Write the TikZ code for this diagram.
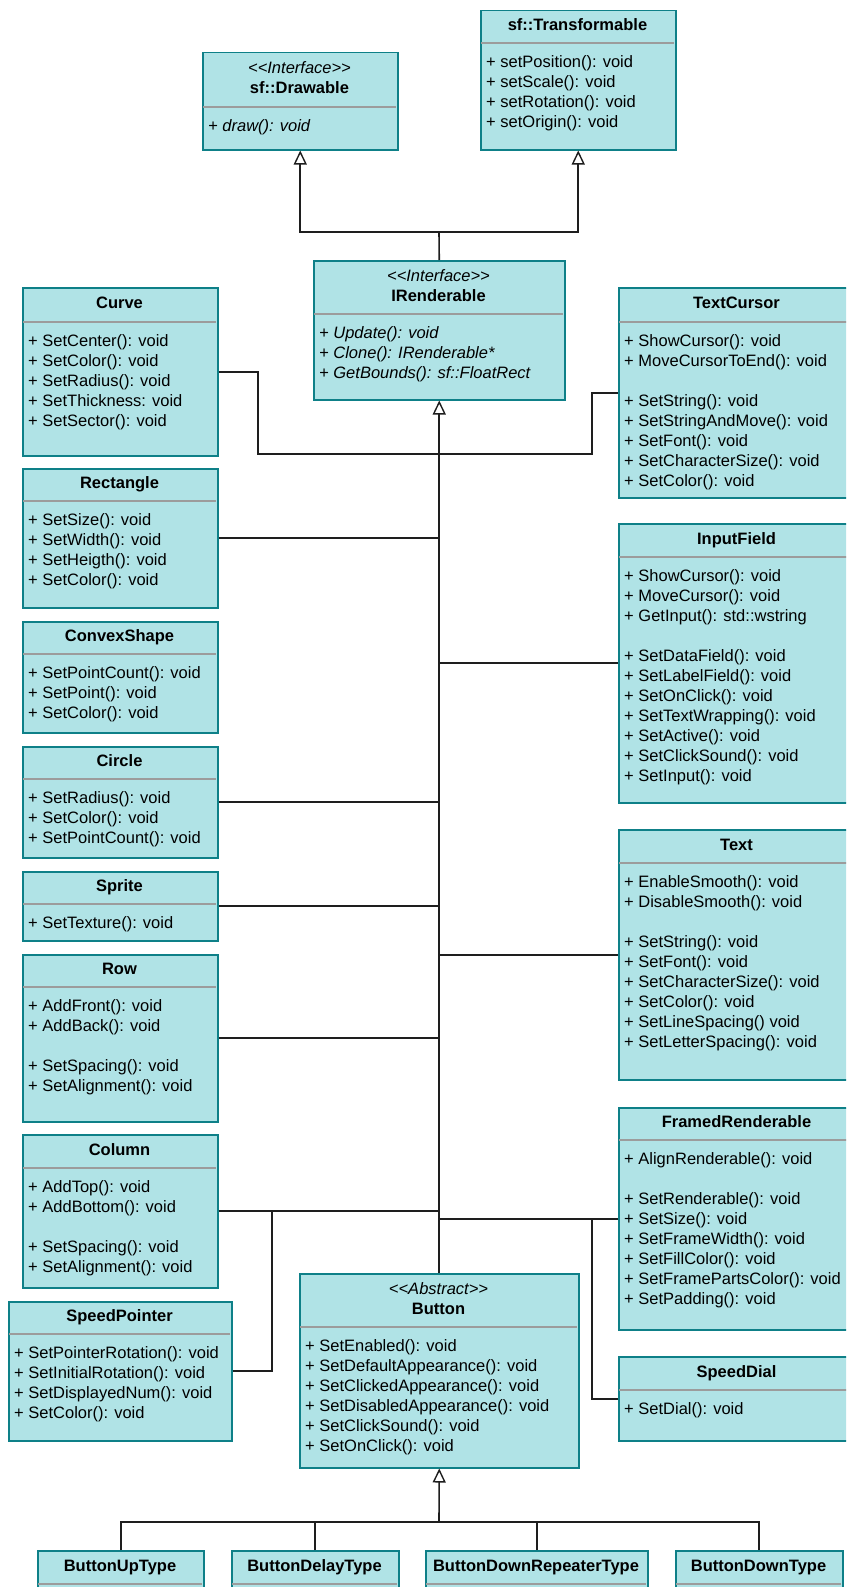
\documentclass[tikz,border=0pt]{standalone}
\usepackage{fontspec}
\setmainfont{Liberation Sans}
\usetikzlibrary{arrows.meta}

\definecolor{classfill}{HTML}{B0E3E6}
\definecolor{classline}{HTML}{0E8088}
\definecolor{rulegray}{HTML}{9C9C9C}
\definecolor{wire}{HTML}{1E1E1E}

\newcommand\tstrut{\rule[-4pt]{0pt}{16pt}}
\newcommand\umlfont{\fontsize{16.5}{20}\selectfont}

% #1 name, #2 left, #3 top, #4 right, #5 bottom, #6 separator y, #7 header, #8 members
\newcommand\umlclass[8]{%
  \node[classbox, minimum width={(#4-#2)*1pt}, minimum height={(#5-#3)*1pt}] (#1) at (#2,#3) {};
  \draw[sepline] (#2+1,#6) -- (#4-1,#6);
  \node[classtitle] (#1-title) at ({(#2+#4)/2},{(#3+#6)/2}) {#7};
  \node[classitems] (#1-items) at (#2+6,#6) {\rule{0pt}{24pt}#8};
}

\tikzset{
  classbox/.style={draw=classline, fill=classfill, line width=1.5pt, inner sep=0pt,
    anchor=north west, rectangle},
  sepline/.style={draw=rulegray, line width=1.5pt},
  classtitle/.style={inner sep=0pt, align=center, font=\umlfont},
  classitems/.style={inner sep=0pt, anchor=north west, align=left, font=\umlfont},
  wireline/.style={draw=wire, line width=1.6pt},
  inh/.style={wireline, -{Triangle[open, length=14pt, width=13pt, line width=1.4pt]}},
}

\begin{document}
\begin{tikzpicture}[x=1pt, y=-1pt]
\useasboundingbox (0,0) rectangle (846,1587);
\fill[white] (0,0) rectangle (846,1587);
\clip (0,0) rectangle (846,1587);

% SFML base classes
\umlclass{drawable}{202}{52}{397}{149}{107}
  {\tstrut\textit{<{}<Interface>{}>}\\\tstrut\textbf{sf::Drawable}}
  {\textit{+ draw(): void}}
\umlclass{transformable}{480}{10}{675}{149}{43}
  {\tstrut\textbf{sf::Transformable}}
  {+ setPosition(): void\\+ setScale(): void\\+ setRotation(): void\\+ setOrigin(): void}

% common interface
\umlclass{irend}{313}{260}{564}{399}{314}
  {\tstrut\textit{<{}<Interface>{}>}\\\tstrut\textbf{IRenderable}}
  {\textit{+ Update(): void}\\\textit{+ Clone(): IRenderable*}\\\textit{+ GetBounds(): sf::FloatRect}}

% left column
\umlclass{curve}{22}{287}{217}{455}{322}
  {\tstrut\textbf{Curve}}
  {+ SetCenter(): void\\+ SetColor(): void\\+ SetRadius(): void\\+ SetThickness: void\\+ SetSector(): void}
\umlclass{rect}{22}{468}{217}{607}{501}
  {\tstrut\textbf{Rectangle}}
  {+ SetSize(): void\\+ SetWidth(): void\\+ SetHeigth(): void\\+ SetColor(): void}
\umlclass{convex}{22}{621}{217}{732}{654}
  {\tstrut\textbf{ConvexShape}}
  {+ SetPointCount(): void\\+ SetPoint(): void\\+ SetColor(): void}
\umlclass{circle}{22}{746}{217}{857}{779}
  {\tstrut\textbf{Circle}}
  {+ SetRadius(): void\\+ SetColor(): void\\+ SetPointCount(): void}
\umlclass{sprite}{22}{871}{217}{940}{904}
  {\tstrut\textbf{Sprite}}
  {+ SetTexture(): void}
\umlclass{row}{22}{954}{217}{1121}{987}
  {\tstrut\textbf{Row}}
  {+ AddFront(): void\\+ AddBack(): void\\[20pt]+ SetSpacing(): void\\+ SetAlignment(): void}
\umlclass{column}{22}{1134}{217}{1287}{1168}
  {\tstrut\textbf{Column}}
  {+ AddTop(): void\\+ AddBottom(): void\\[20pt]+ SetSpacing(): void\\+ SetAlignment(): void}
\umlclass{spoint}{8}{1301}{231}{1440}{1334}
  {\tstrut\textbf{SpeedPointer}}
  {+ SetPointerRotation(): void\\+ SetInitialRotation(): void\\+ SetDisplayedNum(): void\\+ SetColor(): void}

% right column
\umlclass{tcur}{618}{287}{855}{497}{322}
  {\tstrut\textbf{TextCursor}}
  {+ ShowCursor(): void\\+ MoveCursorToEnd(): void\\[20pt]+ SetString(): void\\+ SetStringAndMove(): void\\+ SetFont(): void\\+ SetCharacterSize(): void\\+ SetColor(): void}
\umlclass{input}{618}{523}{855}{802}{557}
  {\tstrut\textbf{InputField}}
  {+ ShowCursor(): void\\+ MoveCursor(): void\\+ GetInput(): std::wstring\\[20pt]+ SetDataField(): void\\+ SetLabelField(): void\\+ SetOnClick(): void\\+ SetTextWrapping(): void\\+ SetActive(): void\\+ SetClickSound(): void\\+ SetInput(): void}
\umlclass{text}{618}{829}{855}{1079}{863}
  {\tstrut\textbf{Text}}
  {+ EnableSmooth(): void\\+ DisableSmooth(): void\\[20pt]+ SetString(): void\\+ SetFont(): void\\+ SetCharacterSize(): void\\+ SetColor(): void\\+ SetLineSpacing() void\\+ SetLetterSpacing(): void}
\umlclass{framed}{618}{1107}{855}{1329}{1140}
  {\tstrut\textbf{FramedRenderable}}
  {+ AlignRenderable(): void\\[20pt]+ SetRenderable(): void\\+ SetSize(): void\\+ SetFrameWidth(): void\\+ SetFillColor(): void\\+ SetFramePartsColor(): void\\+ SetPadding(): void}
\umlclass{sdial}{618}{1356}{855}{1440}{1390}
  {\tstrut\textbf{SpeedDial}}
  {+ SetDial(): void}

% buttons
\umlclass{btn}{299}{1273}{578}{1467}{1327}
  {\tstrut\textit{<{}<Abstract>{}>}\\\tstrut\textbf{Button}}
  {+ SetEnabled(): void\\+ SetDefaultAppearance(): void\\+ SetClickedAppearance(): void\\+ SetDisabledAppearance(): void\\+ SetClickSound(): void\\+ SetOnClick(): void}
\umlclass{bup}{37}{1550}{203}{1620}{1584}
  {\tstrut\textbf{ButtonUpType}}{}
\umlclass{bdelay}{231}{1550}{398}{1620}{1584}
  {\tstrut\textbf{ButtonDelayType}}{}
\umlclass{brep}{425}{1550}{647}{1620}{1584}
  {\tstrut\textbf{ButtonDownRepeaterType}}{}
\umlclass{bdown}{675}{1550}{842}{1620}{1584}
  {\tstrut\textbf{ButtonDownType}}{}

% junction points
\coordinate (topbus) at (439,232);
\coordinate (cj1) at (258,454);
\coordinate (cj2) at (592,454);
\coordinate (spj) at (272,1210);
\coordinate (sdj) at (592,1218);
\coordinate (bbus) at (439,1522);

% IRenderable inherits from the SFML classes
\draw[wireline] (irend.north) -- (topbus);
\draw[inh] (topbus) -| (drawable.south);
\draw[inh] (topbus) -| (transformable.south);

% trunk into IRenderable
\draw[inh] (btn.north) -- (irend.south);

% branches joining the trunk
\draw[wireline] (curve.east) -| (cj1) -- (cj2) |- (tcur.west);
\draw[wireline] (rect.east) -- (rect.east -| irend.south);
\draw[wireline] (input.west) -- (input.west -| irend.south);
\draw[wireline] (circle.east) -- (circle.east -| irend.south);
\draw[wireline] (sprite.east) -- (sprite.east -| irend.south);
\draw[wireline] (text.west) -- (text.west -| irend.south);
\draw[wireline] (row.east) -- (row.east -| irend.south);
\draw[wireline] (column.east) -- (column.east -| irend.south);
\draw[wireline] (spoint.east) -| (spj);
\draw[wireline] (framed.west) -- (framed.west -| irend.south);
\draw[wireline] (sdial.west) -| (sdj);

% button subclasses
\draw[inh] (bbus) -- (btn.south);
\draw[wireline] (bup.north) |- (bbus);
\draw[wireline] (bdelay.north) |- (bbus);
\draw[wireline] (brep.north) |- (bbus);
\draw[wireline] (bdown.north) |- (bbus);
\end{tikzpicture}
\end{document}
